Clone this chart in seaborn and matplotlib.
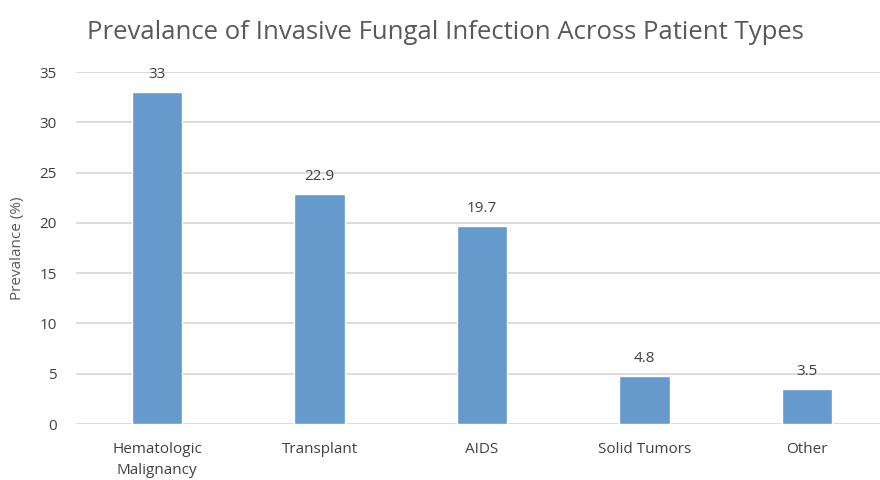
import matplotlib
matplotlib.use("Agg")
import matplotlib.pyplot as plt
import seaborn as sns
import pandas as pd

# chart data
categories = ["Hematologic\nMalignancy", "Transplant", "AIDS", "Solid Tumors", "Other"]
prevalence = [33, 22.9, 19.7, 4.8, 3.5]
label_text = ["33", "22.9", "19.7", "4.8", "3.5"]
y_ticks = [0, 5, 10, 15, 20, 25, 30, 35]

df = pd.DataFrame({"category": categories, "prevalence": prevalence})

sns.set_theme(style="white")
plt.rcParams["font.family"] = ["Open Sans", "DejaVu Sans"]

fig = plt.figure(figsize=(8.8, 4.8), dpi=100)
ax = fig.add_axes([76 / 880, 56 / 480, 1 - 76 / 880, (424 - 72) / 480])

sns.barplot(data=df, x="category", y="prevalence", color="#6699CC",
            saturation=1, width=0.31, ax=ax, zorder=3)

ax.set_xlim(-0.5, 4.45)
ax.set_ylim(0, 35)
ax.set_yticks(y_ticks)
ax.yaxis.grid(True, color="#D9D9D9", linewidth=1.3, zorder=0)
ax.set_axisbelow(True)
for s in ax.spines.values():
    s.set_visible(False)

ax.tick_params(axis="y", length=0, pad=14, labelsize=11, labelcolor="#404040")
ax.tick_params(axis="x", length=0, pad=13, labelsize=11, labelcolor="#404040")
for lbl in ax.get_xticklabels():
    lbl.set_linespacing(1.5)
ax.set_xlabel("")
ax.set_ylabel("Prevalance (%)", fontsize=11, color="#595959", labelpad=10)

for i, (v, t) in enumerate(zip(prevalence, label_text)):
    ax.annotate(t, (i, v), xytext=(0, 7), textcoords="offset points",
                ha="center", va="bottom", fontsize=11, color="#404040")

fig.suptitle("Prevalance of Invasive Fungal Infection Across Patient Types",
             x=0.506, y=0.958, fontsize=18.5, color="#595959")

plt.savefig("out.png", dpi=100)
